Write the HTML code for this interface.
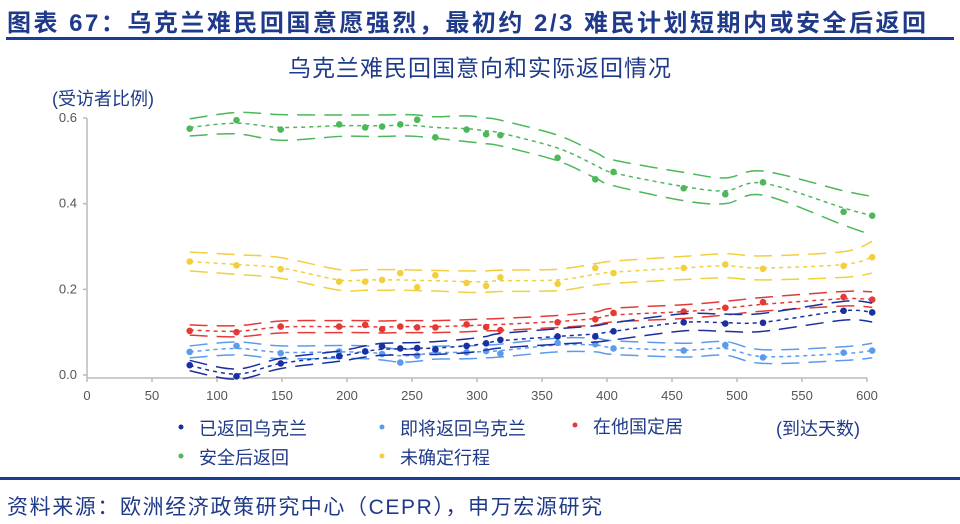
<!DOCTYPE html>
<html><head><meta charset="utf-8">
<style>
body{margin:0;width:960px;height:524px;background:#fff;overflow:hidden;font-family:"Liberation Sans","Noto Sans CJK SC",sans-serif;}
.t{position:absolute;color:#1f3a8a;white-space:nowrap;}
</style></head><body>
<div class="t" style="left:7px;top:3px;font-size:24px;font-weight:bold;letter-spacing:2.5px;">图表 67：乌克兰难民回国意愿强烈，最初约 2/3 难民计划短期内或安全后返回</div>
<div style="position:absolute;left:6px;top:37px;width:948px;height:3px;background:#1a3e96"></div>
<div style="position:absolute;left:0;top:477px;width:960px;height:3px;background:#1a3e96"></div>
<div class="t" style="left:7px;top:491px;font-size:21px;letter-spacing:1.6px;">资料来源：欧洲经济政策研究中心（CEPR），申万宏源研究</div>
<svg id="c" width="960" height="524" style="position:absolute;left:0;top:0"></svg>
<script>
const days=[79,115,149,194,214,227,241,254,268,292,307,318,362,391,405,459,491,520,582,604];
const greenPts=[0.575,0.595,0.573,0.585,0.578,0.580,0.585,0.596,0.555,0.573,0.562,0.560,0.507,0.457,0.474,0.436,0.422,0.450,0.381,0.372];
const greenTrend=[0.578,0.588,0.578,0.582,0.582,0.582,0.583,0.582,0.578,0.575,0.570,0.565,0.530,0.490,0.472,0.440,0.430,0.448,0.390,0.372];
const greenHalf=[0.02,0.025,0.03,0.025,0.025,0.025,0.025,0.025,0.025,0.03,0.03,0.03,0.03,0.03,0.03,0.033,0.03,0.028,0.04,0.045];
const yellowPts=[0.265,0.256,0.247,0.218,0.218,0.222,0.238,0.205,0.233,0.215,0.208,0.228,0.213,0.250,0.238,0.250,0.258,0.248,0.255,0.275];
const yellowTrend=[0.265,0.258,0.250,0.222,0.222,0.222,0.222,0.221,0.220,0.218,0.218,0.220,0.222,0.235,0.240,0.250,0.255,0.250,0.258,0.275];
const yellowHalf=[0.022,0.023,0.024,0.024,0.024,0.024,0.024,0.024,0.024,0.025,0.025,0.025,0.025,0.025,0.026,0.027,0.028,0.028,0.03,0.037];
const redPts=[0.103,0.100,0.113,0.113,0.117,0.107,0.113,0.111,0.111,0.118,0.112,0.105,0.123,0.130,0.145,0.148,0.157,0.170,0.182,0.176];
const redTrend=[0.105,0.102,0.112,0.113,0.113,0.112,0.113,0.113,0.113,0.115,0.117,0.118,0.125,0.132,0.140,0.148,0.156,0.165,0.178,0.176];
const redHalf=[0.012,0.013,0.014,0.014,0.014,0.014,0.014,0.014,0.014,0.014,0.014,0.014,0.014,0.015,0.016,0.016,0.016,0.016,0.017,0.018];
const navyPts=[0.023,-0.003,0.027,0.044,0.055,0.067,0.062,0.063,0.060,0.068,0.074,0.082,0.090,0.090,0.102,0.123,0.120,0.122,0.150,0.146];
const navyTrend=[0.022,0.002,0.027,0.044,0.055,0.060,0.061,0.062,0.063,0.068,0.074,0.080,0.090,0.096,0.102,0.123,0.122,0.123,0.150,0.146];
const navyHalf=[0.012,0.012,0.012,0.012,0.013,0.014,0.014,0.014,0.015,0.016,0.016,0.017,0.018,0.019,0.02,0.02,0.02,0.021,0.022,0.022];
const lightPts=[0.054,0.068,0.051,0.055,0.055,0.049,0.029,0.045,0.057,0.053,0.056,0.050,0.075,0.072,0.062,0.057,0.070,0.041,0.052,0.057];
const lightTrend=[0.054,0.062,0.053,0.054,0.053,0.050,0.045,0.047,0.052,0.053,0.055,0.057,0.070,0.070,0.064,0.058,0.062,0.043,0.050,0.057];
const lightHalf=[0.014,0.015,0.015,0.015,0.015,0.015,0.015,0.015,0.015,0.015,0.015,0.015,0.016,0.016,0.016,0.016,0.016,0.016,0.016,0.017];
const xTicks=[0,50,100,150,200,250,300,350,400,450,500,550,600];
const yTicks=[0.0,0.2,0.4,0.6];
const X=v=>87+v*1.3, Y=v=>375-v*428.3;
const svg=document.getElementById('c'),NS='http://www.w3.org/2000/svg';
function mk(tag,a,p){const e=document.createElementNS(NS,tag);for(const k in a)e.setAttribute(k,a[k]);(p||svg).appendChild(e);return e;}
function smooth(pts){let d='M'+pts[0][0]+','+pts[0][1];for(let i=1;i<pts.length;i++){const p0=pts[i-2]||pts[i-1],p1=pts[i-1],p2=pts[i],p3=pts[i+1]||p2;d+=' C'+(p1[0]+(p2[0]-p0[0])/6)+','+(p1[1]+(p2[1]-p0[1])/6)+' '+(p2[0]-(p3[0]-p1[0])/6)+','+(p2[1]-(p3[1]-p1[1])/6)+' '+p2[0]+','+p2[1];}return d;}
let t=mk('text',{x:480,y:76,'text-anchor':'middle','font-size':23,fill:'#1f3a8a','letter-spacing':1});t.textContent='乌克兰难民回国意向和实际返回情况';


t=mk('text',{x:52,y:105,'font-size':18,fill:'#1f3a8a'});t.textContent='(受访者比例)';


const ax=mk('g',{stroke:'#bbb','stroke-width':1.5,fill:'none'});


mk('path',{d:`M${X(0)},${Y(0.6)}V${Y(0)+3}M${X(0)},${Y(0)+3}H${X(600)}`},ax);
yTicks.forEach(v=>{mk('path',{d:`M${X(0)-4},${Y(v)}H${X(0)}`},ax);const e=mk('text',{x:X(0)-10,y:Y(v)+4,'text-anchor':'end','font-size':13,fill:'#555'});e.textContent=v.toFixed(1);

});
xTicks.forEach(v=>{mk('path',{d:`M${X(v)},${Y(0)+3}V${Y(0)+7}`},ax);const e=mk('text',{x:X(v),y:400,'text-anchor':'middle','font-size':13,fill:'#555'});e.textContent=v;

});
const series=[
 ['green-safe-return','#4cb85a',greenPts,greenTrend,greenHalf],
 ['yellow-undecided','#f2cf3c',yellowPts,yellowTrend,yellowHalf],
 ['red-settle-abroad','#e53935',redPts,redTrend,redHalf],
 ['lightblue-return-soon','#5a9bf0',lightPts,lightTrend,lightHalf],
 ['navy-returned','#1a2fa0',navyPts,navyTrend,navyHalf]];
series.forEach(([nm,col,pts,tr,hw])=>{
 const g=mk('g',{fill:'none',stroke:col});
 
 
 const up=days.map((d,i)=>[X(d),Y(tr[i]+hw[i])]),lo=days.map((d,i)=>[X(d),Y(tr[i]-hw[i])]),mid=days.map((d,i)=>[X(d),Y(tr[i])]);
 mk('path',{d:smooth(up),'stroke-width':1.5,'stroke-dasharray':'18,9'},g);
 mk('path',{d:smooth(lo),'stroke-width':1.5,'stroke-dasharray':'18,9'},g);
 mk('path',{d:smooth(mid),'stroke-width':1.5,'stroke-dasharray':'4,4'},g);
 pts.forEach((v,i)=>{const c=mk('circle',{cx:X(days[i]),cy:Y(v),r:3.3,fill:col,stroke:'none'},g);
 
 });
});
const legend=[['已返回乌克兰','#1a2fa0',181,428],['即将返回乌克兰','#5a9bf0',382,428],['在他国定居','#e53935',575,426],['安全后返回','#4cb85a',181,457],['未确定行程','#f2cf3c',382,457]];
legend.forEach(([txt,col,x,y])=>{const g=mk('g',{});
 
 
 mk('circle',{cx:x,cy:y-1,r:2.5,fill:col},g);
 const e=mk('text',{x:x+18,y:y+7,'font-size':18,fill:'#1f3a8a'},g);e.textContent=txt;});
t=mk('text',{x:776,y:435,'font-size':18,fill:'#1f3a8a'});t.textContent='(到达天数)';


</script>
</body></html>
